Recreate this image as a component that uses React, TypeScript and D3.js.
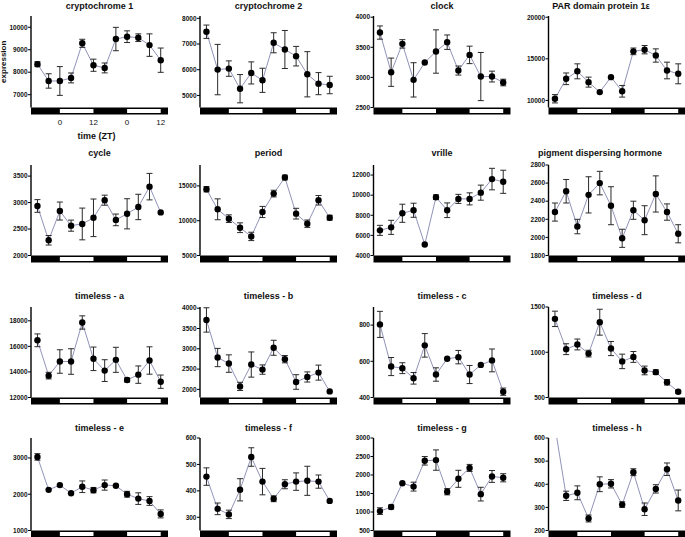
import React from "react";
import * as d3 from "d3";

// ---------- data ----------
const ZT = [-8, -4, 0, 4, 8, 12, 16, 20, 24, 28, 32, 36];
const X_TICK_VALUES = [0, 12, 24, 36];
const X_TICK_LABELS = ["0", "12", "0", "12"];
const LIGHT_PERIODS = [[0, 12], [24, 36]];

const cry1Mean = [8357, 7610, 7610, 7745, 9285, 8310, 8190, 9475, 9580, 9535, 9205, 8535];
const cry1Err = [110, 320, 640, 220, 180, 270, 220, 520, 260, 170, 500, 540];
const cry1Ticks = [7000, 8000, 9000, 10000];

const cry2Mean = [7478, 6005, 6044, 5262, 5875, 5588, 7048, 6787, 6527, 5823, 5458, 5405];
const cry2Err = [260, 980, 300, 550, 430, 470, 390, 740, 380, 880, 430, 340];
const cry2Ticks = [5000, 6000, 7000, 8000];

const clockMean = [3745, 3086, 3557, 2959, 3247, 3430, 3585, 3114, 3374, 3014, 3014, 2915];
const clockErr = [110, 235, 70, 285, 0, 360, 120, 75, 145, 400, 90, 55];
const clockTicks = [2500, 3000, 3500, 4000];

const parMean = [10200, 12600, 13500, 12200, 11000, 12800, 11100, 15900, 16100, 15400, 13600, 13200];
const parErr = [500, 700, 900, 600, 0, 0, 700, 400, 500, 800, 1000, 1200];
const parTicks = [10000, 15000, 20000];

const cycleMean = [2936, 2288, 2840, 2564, 2596, 2712, 3045, 2673, 2788, 2917, 3301, 2814];
const cycleErr = [120, 90, 170, 105, 300, 355, 95, 110, 285, 240, 250, 0];
const cycleTicks = [2000, 2500, 3000, 3500];

const periodMean = [14519, 11635, 10288, 8990, 7740, 11250, 13894, 16202, 11010, 9567, 12933, 10433];
const periodErr = [380, 1500, 550, 700, 600, 800, 480, 350, 770, 530, 680, 350];
const periodTicks = [5000, 10000, 15000];

const vrilleMean = [6500, 6800, 8200, 8500, 5100, 9800, 8500, 9630, 9630, 10250, 11600, 11330];
const vrilleErr = [500, 700, 900, 700, 0, 230, 730, 450, 600, 750, 1070, 1150];
const vrilleTicks = [4000, 6000, 8000, 10000, 12000];

const pdhMean = [2280, 2510, 2120, 2470, 2600, 2350, 1990, 2300, 2190, 2480, 2280, 2040];
const pdhErr = [100, 130, 80, 200, 130, 210, 100, 100, 160, 200, 90, 100];
const pdhTicks = [1800, 2000, 2200, 2400, 2600, 2800];

const timAMean = [16474, 13710, 14816, 14816, 17868, 15026, 14105, 14947, 13368, 13789, 14895, 13237];
const timAErr = [500, 260, 920, 1000, 520, 920, 850, 980, 160, 680, 1070, 520];
const timATicks = [12000, 14000, 16000, 18000];

const timBMean = [3711, 2785, 2636, 2074, 2612, 2488, 3025, 2744, 2182, 2306, 2413, 1950];
const timBErr = [300, 225, 215, 100, 310, 115, 185, 90, 180, 125, 185, 0];
const timBTicks = [2000, 2500, 3000, 3500, 4000];

const timCMean = [804, 571, 562, 506, 688, 527, 614, 623, 527, 580, 605, 432];
const timCErr = [72, 50, 30, 32, 65, 37, 0, 37, 50, 0, 63, 20];
const timCTicks = [400, 600, 800];

const timDMean = [1369, 1034, 1086, 985, 1332, 1041, 899, 948, 799, 780, 668, 563];
const timDErr = [85, 60, 60, 37, 143, 78, 80, 60, 48, 26, 30, 15];
const timDTicks = [500, 1000, 1500];

const timEMean = [3028, 2121, 2252, 2028, 2206, 2112, 2252, 2234, 2000, 1879, 1813, 1458];
const timEErr = [90, 0, 0, 0, 160, 75, 140, 0, 80, 160, 120, 110];
const timETicks = [1000, 2000, 3000];

const timFMean = [454, 332, 311, 404, 528, 435, 370, 425, 435, 438, 435, 362];
const timFErr = [33, 22, 16, 42, 35, 50, 11, 17, 33, 55, 25, 0];
const timFTicks = [300, 400, 500, 600];

const timGMean = [1024, 1134, 1778, 1686, 2384, 2403, 1548, 1897, 2191, 1483, 1961, 1925];
const timGErr = [90, 55, 0, 120, 115, 275, 85, 230, 95, 185, 160, 110];
const timGTicks = [500, 1000, 1500, 2000, 2500, 3000];

const timHMean = [650, 350, 363, 252, 400, 402, 312, 452, 292, 380, 465, 330];
const timHErr = [0, 20, 30, 15, 32, 18, 12, 15, 27, 18, 27, 45];
const timHTicks = [200, 300, 400, 500, 600];

const PANELS = [
  { title: "cryptochrome 1", mean: cry1Mean, err: cry1Err, domain: [6430, 10500], ticks: cry1Ticks },
  { title: "cryptochrome 2", mean: cry2Mean, err: cry2Err, domain: [4530, 8090], ticks: cry2Ticks },
  { title: "clock", mean: clockMean, err: clockErr, domain: [2500, 4020], ticks: clockTicks },
  { title: "PAR domain protein 1ε", mean: parMean, err: parErr, domain: [9150, 20150], ticks: parTicks },
  { title: "cycle", mean: cycleMean, err: cycleErr, domain: [2000, 3710], ticks: cycleTicks },
  { title: "period", mean: periodMean, err: periodErr, domain: [5000, 18000], ticks: periodTicks },
  { title: "vrille", mean: vrilleMean, err: vrilleErr, domain: [4000, 13000], ticks: vrilleTicks },
  { title: "pigment dispersing hormone", mean: pdhMean, err: pdhErr, domain: [1800, 2800], ticks: pdhTicks },
  { title: "timeless - a", mean: timAMean, err: timAErr, domain: [12000, 19080], ticks: timATicks },
  { title: "timeless - b", mean: timBMean, err: timBErr, domain: [1800, 4030], ticks: timBTicks },
  { title: "timeless - c", mean: timCMean, err: timCErr, domain: [400, 900], ticks: timCTicks },
  { title: "timeless - d", mean: timDMean, err: timDErr, domain: [500, 1500], ticks: timDTicks },
  { title: "timeless - e", mean: timEMean, err: timEErr, domain: [1000, 3550], ticks: timETicks },
  { title: "timeless - f", mean: timFMean, err: timFErr, domain: [250, 600], ticks: timFTicks },
  { title: "timeless - g", mean: timGMean, err: timGErr, domain: [500, 3000], ticks: timGTicks },
  { title: "timeless - h", mean: timHMean, err: timHErr, domain: [200, 600], ticks: timHTicks },
];

// ---------- layout ----------
const W = 685;
const H = 537;
const COL_X = [31, 200, 373.5, 548.5];
const ROW_TOP = [16, 165, 307, 438];
const ROW_BAR = [107.5, 255.5, 397.5, 530.5];
const ROW_TITLE = [9, 156, 298.5, 431];
const PLOT_W = 137;
const BAR_H = 7;
const X_DOMAIN = [-10.3, 38.6];
const TITLE_CENTER_OVERRIDE: Record<number, number> = { 3: 601, 7: 600 };
const FONT = "'Liberation Sans', Arial, Helvetica, sans-serif";
const LINE_COLOR = "#8487b0";
const ERR_COLOR = "#2a2a2a";

function Panel({ p, idx }: { p: any; idx: number }) {
  const col = idx % 4;
  const row = Math.floor(idx / 4);
  const x0 = COL_X[col];
  const top = ROW_TOP[row];
  const bar = ROW_BAR[row];
  const x = d3.scaleLinear().domain(X_DOMAIN).range([x0, x0 + PLOT_W]);
  const y = d3.scaleLinear().domain(p.domain).range([bar, top]);
  const line = d3
    .line<number>()
    .x((_, i) => x(ZT[i]))
    .y((d) => y(d));
  const clipId = `clip-${idx}`;
  const titleX = TITLE_CENTER_OVERRIDE[idx] ?? x0 + PLOT_W / 2;
  return (
    <g>
      <defs>
        <clipPath id={clipId}>
          <rect x={x0} y={top} width={PLOT_W + 4} height={bar - top} />
        </clipPath>
      </defs>
      <text
        x={titleX}
        y={ROW_TITLE[row]}
        textAnchor="middle"
        fontFamily={FONT}
        fontWeight="bold"
        fontSize={9}
        fill="#111"
      >
        {p.title}
      </text>
      {/* y axis */}
      <line x1={x0} x2={x0} y1={top} y2={bar} stroke="#000" strokeWidth={1.4} />
      {p.ticks.map((t: number) => (
        <g key={t}>
          <line x1={x0 - 3} x2={x0} y1={y(t)} y2={y(t)} stroke="#000" strokeWidth={1} />
          <text
            x={x0 - 3.5}
            y={y(t)}
            dy="0.35em"
            textAnchor="end"
            fontFamily={FONT}
            fontWeight="bold"
            fontSize={6.5}
            fill="#111"
          >
            {t}
          </text>
        </g>
      ))}
      {/* light/dark bar */}
      <rect x={x0} y={bar} width={PLOT_W} height={BAR_H} fill="#000" />
      {LIGHT_PERIODS.map(([a, b], i) => (
        <rect key={i} x={x(a)} y={bar + 1.5} width={x(b) - x(a)} height={BAR_H - 3} fill="#fff" />
      ))}
      {/* series */}
      <g clipPath={`url(#${clipId})`}>
        <path d={line(p.mean) || ""} fill="none" stroke={LINE_COLOR} strokeWidth={0.9} />
        {p.mean.map((m: number, i: number) => {
          const e = p.err[i];
          const cx = x(ZT[i]);
          return (
            <g key={i}>
              {e > 0 && (
                <g stroke={ERR_COLOR} strokeWidth={1}>
                  <line x1={cx} x2={cx} y1={y(m - e)} y2={y(m + e)} />
                  <line x1={cx - 3} x2={cx + 3} y1={y(m - e)} y2={y(m - e)} />
                  <line x1={cx - 3} x2={cx + 3} y1={y(m + e)} y2={y(m + e)} />
                </g>
              )}
              <circle cx={cx} cy={y(m)} r={3.2} fill="#000" />
            </g>
          );
        })}
      </g>
      {idx === 0 && (
        <g>
          {X_TICK_VALUES.map((v, i) => (
            <text
              key={i}
              x={x(v)}
              y={bar + BAR_H + 10}
              textAnchor="middle"
              fontFamily={FONT}
              fontSize={8}
              fill="#111"
            >
              {X_TICK_LABELS[i]}
            </text>
          ))}
          <text
            x={x0 + PLOT_W / 2 - 3}
            y={bar + BAR_H + 24}
            textAnchor="middle"
            fontFamily={FONT}
            fontWeight="bold"
            fontSize={9}
            fill="#111"
          >
            time (ZT)
          </text>
          <text
            transform={`translate(${6},${(top + bar) / 2}) rotate(-90)`}
            textAnchor="middle"
            fontFamily={FONT}
            fontWeight="bold"
            fontSize={8}
            fill="#111"
          >
            expression
          </text>
        </g>
      )}
    </g>
  );
}

export default function App() {
  return (
    <div style={{ position: "absolute", left: 0, top: 0, width: W, height: H, background: "#fff" }}>
      <svg width={W} height={H} viewBox={`0 0 ${W} ${H}`} style={{ display: "block" }}>
        <rect width={W} height={H} fill="#fff" />
        {PANELS.map((p, i) => (
          <Panel key={i} p={p} idx={i} />
        ))}
      </svg>
    </div>
  );
}
